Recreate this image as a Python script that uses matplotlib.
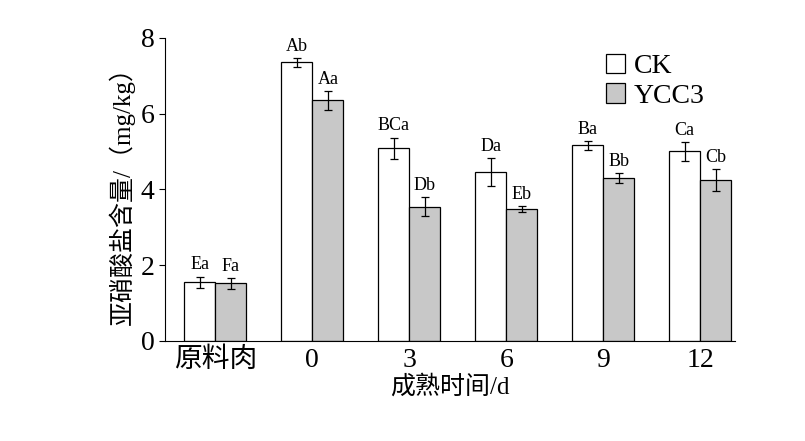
import numpy as np
import matplotlib.pyplot as plt

plt.rcParams['font.family'] = ['Liberation Serif', 'Noto Sans CJK SC']
plt.rcParams['axes.unicode_minus'] = False

groups = ['原料肉', '0', '3', '6', '9', '12']
ck = [1.55, 7.36, 5.09, 4.46, 5.17, 5.01]
ck_err = [0.15, 0.12, 0.28, 0.38, 0.12, 0.25]
ycc3 = [1.52, 6.36, 3.54, 3.48, 4.30, 4.25]
ycc3_err = [0.15, 0.25, 0.25, 0.08, 0.14, 0.28]
ck_lab = ['Ea', 'Ab', 'BCa', 'Da', 'Ba', 'Ca']
ycc3_lab = ['Fa', 'Aa', 'Db', 'Eb', 'Bb', 'Cb']

fig = plt.figure(figsize=(8.05, 4.41), dpi=100)
ax = fig.add_axes([0.205, 0.227, 0.708, 0.687])
x = np.arange(len(groups))
w = 0.32
ekw = dict(elinewidth=0.9, capthick=0.9)
ax.bar(x - w/2, ck, w, yerr=ck_err, capsize=3, color='white', edgecolor='black',
       linewidth=0.9, error_kw=ekw, label='CK')
ax.bar(x + w/2, ycc3, w, yerr=ycc3_err, capsize=3, color='#c8c8c8', edgecolor='black',
       linewidth=0.9, error_kw=ekw, label='YCC3')
for i in range(len(groups)):
    ax.text(x[i] - w/2, ck[i] + ck_err[i] + 0.08, ck_lab[i], ha='center', va='bottom', fontsize=13)
    ax.text(x[i] + w/2, ycc3[i] + ycc3_err[i] + 0.08, ycc3_lab[i], ha='center', va='bottom', fontsize=13)

ax.set_xlim(-0.52, 5.36)
ax.set_ylim(0, 8)
ax.set_xticks(x)
ax.set_xticklabels(groups, fontsize=20)
ax.set_yticks([0, 2, 4, 6, 8])
ax.tick_params(axis='y', labelsize=20, direction='out', length=4)
ax.tick_params(axis='x', length=0, pad=5)
for s in ['top', 'right']:
    ax.spines[s].set_visible(False)
ax.set_xlabel('成熟时间/d', fontsize=18, labelpad=1)
ax.set_ylabel('亚硝酸盐含量/（mg/kg）', fontsize=18)
ax.legend(loc='upper right', bbox_to_anchor=(0.99, 1.03), frameon=False, fontsize=20,
          handlelength=0.7, handleheight=0.7, handletextpad=0.3, labelspacing=0.15)
fig.savefig('out.png', dpi=100)
